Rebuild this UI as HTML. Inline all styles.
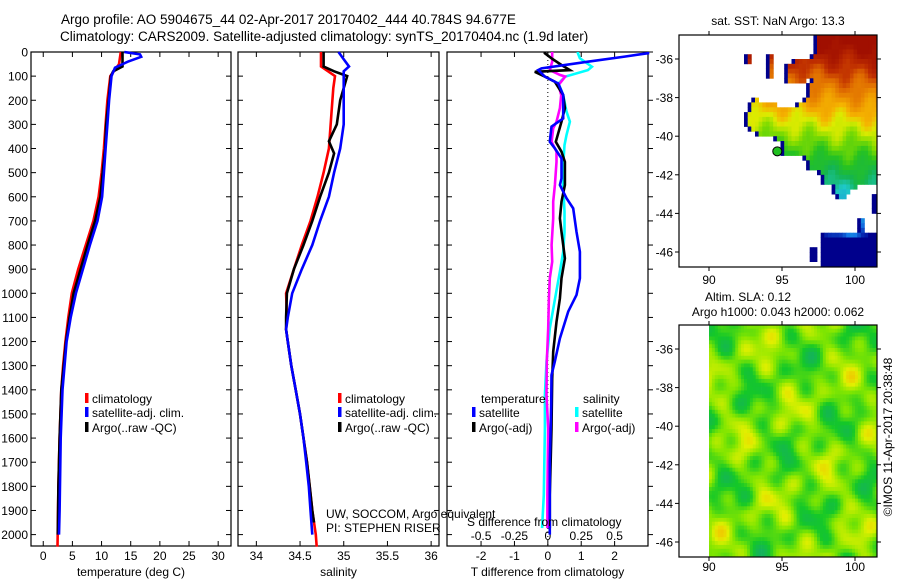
<!DOCTYPE html>
<html><head><meta charset="utf-8"><style>
html,body{margin:0;padding:0;background:#fff;}
svg{display:block;font-family:"Liberation Sans",sans-serif;}
text{fill:#000;}
</style></head><body>
<svg id="fig" width="900" height="580" xmlns="http://www.w3.org/2000/svg">
<text x="61" y="24" font-size="13.5">Argo profile: AO 5904675_44 02-Apr-2017 20170402_444 40.784S 94.677E</text>
<text x="60" y="41" font-size="13.5">Climatology: CARS2009. Satellite-adjusted climatology: synTS_20170404.nc (1.9d later)</text>
<text x="778" y="25" font-size="12" text-anchor="middle">sat. SST: NaN Argo: 13.3</text>
<text x="748" y="301" font-size="12" text-anchor="middle">Altim. SLA: 0.12</text>
<text x="778" y="316" font-size="12" text-anchor="middle">Argo h1000: 0.043 h2000: 0.062</text>
<text transform="translate(892,437) rotate(-90)" font-size="12" text-anchor="middle">©IMOS 11-Apr-2017 20:38:48</text>
<g id="maps"></g>
<g id="panels"></g>
</svg>
<script>
// ---------- data ----------
const depthTicks = [0,100,200,300,400,500,600,700,800,900,1000,1100,1200,1300,1400,1500,1600,1700,1800,1900,2000];
const tempTicks = [0,5,10,15,20,25,30];
const salTicks = [34,34.5,35,35.5,36];
const salTickLabels = ["34","34.5","35","35.5","36"];
const diffTTicks = [-2,-1,0,1,2];
const diffSTickLabels = ["-0.5","-0.25","0","0.25","0.5"];
const diffSTicks = [-0.5,-0.25,0,0.25,0.5];

const climTDepth = [0,50,100,200,300,400,500,600,700,800,900,1000,1100,1200,1300,1400,1600,1800,2050];
const climT      = [13.3,13.0,11.5,11.0,10.7,10.4,10.0,9.5,8.6,7.3,6.0,4.9,4.3,3.8,3.4,3.1,2.8,2.6,2.45];
const satTDepth  = [0,10,20,40,65,100,200,300,400,500,600,700,800,900,1000,1100,1200,1400,1600,1900,2000];
const satT       = [13.9,16.6,16.8,14.5,12.3,11.7,11.3,11.0,10.7,10.4,10.1,9.3,8.0,6.8,5.6,4.7,4.0,3.3,3.0,2.8,2.7];
const argoTDepth = [0,60,80,100,200,300,400,500,600,700,800,900,1000,1100,1200,1300,1400,1600,1800,2000];
const argoT      = [13.6,13.6,12.0,11.6,11.2,10.8,10.6,10.2,9.8,8.9,7.6,6.4,5.2,4.5,3.9,3.5,3.1,2.8,2.6,2.5];

const climSDepth = [0,60,100,150,200,400,500,600,700,800,900,1000,1100,1150,1200,1300,1400,1500,1600,1700,1800,1900,2000,2050];
const climS      = [34.74,34.74,34.90,34.88,34.87,34.83,34.77,34.70,34.62,34.52,34.43,34.34,34.35,34.34,34.36,34.40,34.45,34.50,34.54,34.58,34.61,34.64,34.68,34.69];
const satSDepth  = [0,30,60,80,200,300,400,500,600,700,800,900,1000,1100,1150,1200,1300,1400,1500,1600,1700,1800,1900,2000];
const satS       = [34.94,35.0,35.06,35.0,35.0,35.0,34.96,34.89,34.83,34.73,34.64,34.52,34.41,34.36,34.34,34.36,34.40,34.45,34.50,34.54,34.57,34.60,34.62,34.64];
const argoSDepth = [0,60,80,100,200,300,370,420,500,600,700,800,900,1000,1100,1150,1200,1300,1400,1500,1600,1700,1800,1900,1950];
const argoS      = [34.77,34.77,34.89,35.04,34.96,34.92,34.83,34.89,34.83,34.73,34.64,34.54,34.43,34.35,34.34,34.34,34.36,34.40,34.45,34.50,34.54,34.58,34.61,34.64,34.66];

const dSatTDepth = [0,5,19,40,68,75,102,130,178,275,309,372,399,441,524,551,606,648,745,828,938,1007,1076,1187,1283,1339,1463,1698,2000];
const dSatT      = [3.0,3.0,2.3,1.2,-0.19,-0.29,-0.09,0.31,0.46,0.46,0.11,0.06,0.21,0.41,0.41,0.36,0.56,0.76,0.86,0.96,0.96,0.86,0.61,0.36,0.21,0.11,0.1,0.06,0.06];
const dArgoTDepth = [0,5,26,54,75,82,102,123,178,233,289,337,372,413,455,551,620,689,745,855,938,1021,1118,1242,1353,1560,1836,1973];
const dArgoT      = [-0.09,-0.09,0.11,0.41,0.66,-0.39,-0.09,0.21,0.46,0.51,0.41,0.31,0.24,0.41,0.51,0.51,0.41,0.36,0.41,0.51,0.41,0.36,0.26,0.16,0.13,0.11,0.06,0.06];
const dSatSDepth = [0,5,26,61,75,102,130,178,247,289,344,386,469,551,662,745,828,910,1035,1145,1283,1422,1560,1836,1973];
const dSatS      = [0.225,0.225,0.24,0.33,0.30,0.13,0.08,0.115,0.14,0.165,0.14,0.125,0.115,0.115,0.125,0.125,0.115,0.09,0.05,0.015,-0.01,-0.022,-0.022,-0.03,-0.043];
const dArgoSDepth = [0,5,40,75,95,102,137,178,233,289,316,372,413,455,551,620,689,800,869,938,1021,1145,1283,1422,1560,1836,1973];
const dArgoS      = [0.033,0.033,0.033,0.015,0.09,0.13,0.08,0.10,0.09,0.065,0.04,0.028,0.065,0.065,0.053,0.04,0.04,0.028,0.033,0.015,0.008,0.003,-0.008,-0.01,0.003,-0.003,-0.003];

// ---------- helpers ----------
const NS = "http://www.w3.org/2000/svg";
const fig = document.getElementById('fig');
const panelsG = document.getElementById('panels');
const mapsG = document.getElementById('maps');
function mk(tag, attrs, parent){ const e = document.createElementNS(NS, tag); for (const k in attrs) e.setAttribute(k, attrs[k]); (parent||panelsG).appendChild(e); return e; }
const TOP = 52, PXM = 0.2413;
const yD = d => TOP + d*PXM;
const BOT = 546;

const panels = [
  {name:'temperature', x0:31, x1:231, v0:-2.1, v1:32.2},
  {name:'salinity', x0:238, x1:439, v0:33.79, v1:36.09},
  {name:'difference', x0:447, x1:648, v0:-3.02, v1:3.0}
];
panels.forEach(p => { p.sx = v => p.x0 + (v - p.v0) * (p.x1 - p.x0) / (p.v1 - p.v0); });
const [P1,P2,P3] = panels;

function frame(p){
  const r = mk('rect',{x:p.x0,y:TOP,width:p.x1-p.x0,height:BOT-TOP,fill:'none',stroke:'#000','stroke-width':1.2});
  
  
  depthTicks.forEach(d => {
    const y = yD(d);
    const t1 = mk('line',{x1:p.x0,x2:p.x0+5,y1:y,y2:y,stroke:'#000'});
    
    
    const xo = p===P3 ? p.x1+5 : p.x1-5;
    const t2 = mk('line',{x1:p.x1,x2:xo,y1:y,y2:y,stroke:'#000'});
    
    
  });
}
function xticks(p, vals, labels, ylab){
  vals.forEach((v,i) => {
    const x = p.sx(v);
    const a = mk('line',{x1:x,x2:x,y1:TOP,y2:TOP+5,stroke:'#000'});
    
    
    const b = mk('line',{x1:x,x2:x,y1:BOT,y2:BOT-5,stroke:'#000'});
    
    
    const t = mk('text',{x:x,y:ylab,'font-size':12,'text-anchor':'middle'});
    t.textContent = labels[i];
    
    
  });
}
function line(p, depths, vals, color, nm, scale){
  const pts = depths.map((d,i) => p.sx(vals[i]*(scale||1)).toFixed(1) + ',' + yD(d).toFixed(1)).join(' ');
  const l = mk('polyline',{points:pts,fill:'none',stroke:color,'stroke-width':2.6,'stroke-linejoin':'miter'});
  
  
}
function legendItem(x, y, color, label, nm){
  if (color){
    const m = mk('rect',{x:x,y:y-10,width:3.5,height:10,fill:color});
    
    
  }
  const t = mk('text',{x:x+(color?7:0),y:y,'font-size':12});
  t.textContent = label;
  
  
}

// ---------- panels ----------
panels.forEach(frame);
depthTicks.forEach(d => {
  const t = mk('text',{x:28,y:yD(d)+4.5,'font-size':12,'text-anchor':'end'});
  t.textContent = String(d);
  
  
});
xticks(P1, tempTicks, tempTicks.map(String), 560);
xticks(P2, salTicks, salTickLabels, 560);
xticks(P3, diffTTicks, diffTTicks.map(String), 560);
diffSTicks.forEach((v,i) => {
  const t = mk('text',{x:P3.sx(v*4),y:540,'font-size':12,'text-anchor':'middle'});
  t.textContent = diffSTickLabels[i];
  
  
});
const z = mk('line',{x1:P3.sx(0),x2:P3.sx(0),y1:TOP,y2:BOT,stroke:'#000','stroke-dasharray':'1,3','stroke-width':1});



const xt = [[P1,'temperature (deg C)','temperature-axis-title'],[P2,'salinity','salinity-axis-title'],[P3,'T difference from climatology','t-diff-axis-title']];
xt.forEach(([p,s,n]) => {
  const t = mk('text',{x:(p.x0+p.x1)/2,y:576,'font-size':12,'text-anchor':'middle'});
  t.textContent = s;
  
  
});

line(P1, climTDepth, climT, '#f00', 'climatology-temperature-line');
line(P1, argoTDepth, argoT, '#000', 'argo-temperature-line');
line(P1, satTDepth, satT, '#00f', 'satellite-temperature-line');
line(P2, climSDepth, climS, '#f00', 'climatology-salinity-line');
line(P2, argoSDepth, argoS, '#000', 'argo-salinity-line');
line(P2, satSDepth, satS, '#00f', 'satellite-salinity-line');
line(P3, dSatSDepth, dSatS, '#0ff', 'salinity-satellite-diff-line', 4);
line(P3, dArgoSDepth, dArgoS, '#f0f', 'salinity-argo-diff-line', 4);
line(P3, dArgoTDepth, dArgoT, '#000', 'temperature-argo-diff-line');
line(P3, dSatTDepth, dSatT, '#00f', 'temperature-satellite-diff-line');

legendItem(85, 403, '#f00', 'climatology', 'legend-climatology');
legendItem(85, 417, '#00f', 'satellite-adj. clim.', 'legend-satellite-adj');
legendItem(85, 432, '#000', 'Argo(..raw -QC)', 'legend-argo');
legendItem(338, 403, '#f00', 'climatology', 'legend-climatology-2');
legendItem(338, 417, '#00f', 'satellite-adj. clim.', 'legend-satellite-adj-2');
legendItem(338, 432, '#000', 'Argo(..raw -QC)', 'legend-argo-2');
legendItem(481, 403, null, 'temperature', 'legend-temperature-heading');
legendItem(472, 417, '#00f', 'satellite', 'legend-t-satellite');
legendItem(472, 432, '#000', 'Argo(-adj)', 'legend-t-argo');
legendItem(583, 403, null, 'salinity', 'legend-salinity-heading');
legendItem(575, 417, '#0ff', 'satellite', 'legend-s-satellite');
legendItem(575, 432, '#f0f', 'Argo(-adj)', 'legend-s-argo');
legendItem(326, 518, null, 'UW, SOCCOM, Argo equivalent', 'credit-line');
legendItem(326, 532, null, 'PI: STEPHEN RISER', 'pi-line');
legendItem(467, 526, null, 'S difference from climatology', 's-diff-axis-title');

// ---------- maps ----------
const MX0 = 679, MX1 = 877;
const lonX = lon => 709 + (lon-90)*14.6;
function mapFrame(top, bot, nm, lat0y, labY){
  const latY = lat => lat0y + (-36-lat)*19.3;
  [-36,-38,-40,-42,-44,-46].forEach(la => {
    const y = latY(la);
    const t = mk('text',{x:673,y:y+4.5,'font-size':12,'text-anchor':'end'}, mapsG);
    t.textContent = String(la);
    
    
    const a = mk('line',{x1:MX0,x2:MX0-4,y1:y,y2:y,stroke:'#000'}, mapsG);
    
    
    const b = mk('line',{x1:MX1,x2:MX1+4,y1:y,y2:y,stroke:'#000'}, mapsG);
    
    
  });
  [90,95,100].forEach(lo => {
    const x = lonX(lo);
    const t = mk('text',{x:x,y:labY,'font-size':12,'text-anchor':'middle'}, mapsG);
    t.textContent = String(lo);
    
    
    const a = mk('line',{x1:x,x2:x,y1:top,y2:top-4,stroke:'#000'}, mapsG);
    
    
    const b = mk('line',{x1:x,x2:x,y1:bot,y2:bot+4,stroke:'#000'}, mapsG);
    
    
  });
  return latY;
}
const lat1 = mapFrame(35, 267, 'sst-map', 59, 284);
const sstMask = [[97.3,-34.7],[101.6,-34.7],[101.6,-42.5],[100.2,-42.5],[99.3,-43.2],[98.6,-43.2],[98.3,-42.6],[97.6,-42.6],[97.5,-41.8],[96.6,-41.8],[96.5,-40.9],[95,-40.9],[94.9,-40.4],[94.3,-40],[93.4,-40],[92.5,-39.6],[92.5,-38.8],[93,-38],[94.2,-38.3],[95.6,-38.6],[96.5,-38.1],[96.8,-37.1],[95.6,-37.4],[95.1,-37.1],[95.3,-36.2],[97,-35.9]];
const sstBlobs = [[92.4,92.9,-35.8,-36.3],[93.8,94.5,-35.8,-37.0],[97.6,101.6,-45.1,-46.8],[96.8,97.4,-45.8,-46.4],[101.1,101.6,-42.9,-44.0],[100.2,100.6,-44.3,-44.9]];
function inPoly(x,y,poly){ let c=false; for(let i=0,j=poly.length-1;i<poly.length;j=i++){ const [xi,yi]=poly[i],[xj,yj]=poly[j]; if(((yi>y)!=(yj>y)) && (x < (xj-xi)*(y-yi)/(yj-yi)+xi)) c=!c; } return c; }
function inSst(lo,la){ if (inPoly(lo,la,sstMask)) return true; return sstBlobs.some(b => lo>=b[0]&&lo<=b[1]&&la<=b[2]&&la>=b[3]); }
const sstStops = [[-35.2,[160,15,0]],[-36.3,[190,45,0]],[-37.0,[220,100,0]],[-37.8,[235,140,0]],[-38.6,[245,180,0]],[-39.3,[220,235,0]],[-40.1,[130,220,0]],[-41.0,[40,195,30]],[-42.0,[20,180,80]],[-43.0,[30,200,200]],[-44.6,[20,120,230]],[-45.6,[0,0,150]]];
function sstColor(la, lo){
  la += 0.35*Math.sin(lo*2.3+la*1.7) + 0.2*Math.cos(lo*4.1-la*2.9) + (lo-97)*0.06;
  if (la >= sstStops[0][0]) return sstStops[0][1];
  for (let i=1;i<sstStops.length;i++){ if (la >= sstStops[i][0]){ const [a,ca]=sstStops[i-1],[b,cb]=sstStops[i]; const t=(a-la)/(a-b); return ca.map((v,k)=>Math.round(v+(cb[k]-v)*t)); } }
  return sstStops[sstStops.length-1][1];
}
const sstG = mk('g',{}, mapsG);


const dLo = 0.25, dLa = 0.25;
for (let lo = 87.9; lo < 101.6; lo += dLo){
  for (let la = -34.75; la > -46.85; la -= dLa){
    const c = lo+dLo/2, m = la-dLa/2;
    if (!inSst(c,m)) continue;
    let col = sstColor(m, c);
    if (!inSst(c-dLo, m) || m < -45.2 || (c>101 && m<-42.8)) col = [0,0,140];
    const x = Math.max(MX0, lonX(lo)), w = Math.min(MX1, lonX(lo+dLo)) - x;
    const y = Math.max(35, lat1(la)), h = Math.min(267, lat1(la-dLa)) - y;
    if (w<=0||h<=0) continue;
    mk('rect',{x:x.toFixed(1),y:y.toFixed(1),width:(w+0.4).toFixed(1),height:(h+0.4).toFixed(1),fill:`rgb(${col})`}, sstG);
  }
}
const box1 = mk('rect',{x:MX0,y:35,width:MX1-MX0,height:232,fill:'none',stroke:'#000','stroke-width':1.2}, mapsG);


const dot = mk('circle',{cx:lonX(94.677),cy:lat1(-40.784),r:4.5,fill:'#20c020',stroke:'#000','stroke-width':1}, mapsG);



const lat2 = mapFrame(325, 557, 'sla-map', 349, 571);
const slaG = mk('g',{}, mapsG);


const slaStops = [[0,[20,175,100]],[0.3,[20,200,40]],[0.55,[130,230,0]],[0.8,[225,240,0]],[1,[240,200,0]]];
function slaColor(v){
  v = Math.max(0, Math.min(1, v));
  for (let i=1;i<slaStops.length;i++){ if (v <= slaStops[i][0]){ const [a,ca]=slaStops[i-1],[b,cb]=slaStops[i]; const t=(v-a)/(b-a); return ca.map((q,k)=>Math.round(q+(cb[k]-q)*t)); } }
  return slaStops[slaStops.length-1][1];
}
for (let lo = 90; lo < 101.55; lo += 0.2){
  for (let la = -34.75; la > -46.7; la -= 0.2){
    const c = lo+0.1, m = la-0.1;
    const v = 0.5 + 0.13*Math.sin(c*1.3+m*0.9) + 0.12*Math.cos(c*0.7-m*1.5) + 0.1*Math.sin(c*2.3+m*2.9) + 0.08*Math.cos(c*3.1-m*1.1+1.3) + 0.06*Math.sin(c*1.9-m*3.7);
    const col = slaColor(v);
    const x = lonX(lo), w = Math.min(MX1, lonX(lo+0.2)) - x;
    const y = lat2(la), h = Math.min(557, lat2(la-0.2)) - y;
    if (w<=0||h<=0) continue;
    mk('rect',{x:x.toFixed(1),y:Math.max(325,y).toFixed(1),width:(w+0.4).toFixed(1),height:(h+0.4).toFixed(1),fill:`rgb(${col})`}, slaG);
  }
}
const box2 = mk('rect',{x:MX0,y:325,width:MX1-MX0,height:232,fill:'none',stroke:'#000','stroke-width':1.2}, mapsG);


</script>
</body></html>
